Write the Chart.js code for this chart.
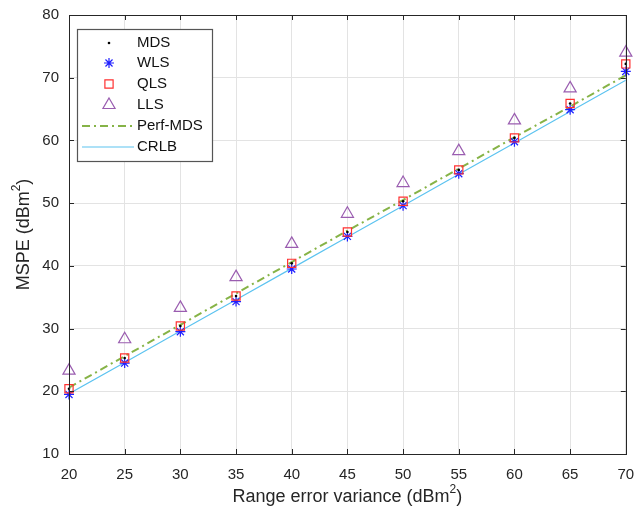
<!DOCTYPE html>
<html>
<head>
<meta charset="utf-8">
<script src="https://cdn.jsdelivr.net/npm/chart.js@4"></script>
<style>
  html, body { margin: 0; padding: 0; background: #fff; }
  #wrap { width: 634px; height: 517px; }
</style>
</head>
<body>
<div id="wrap"><canvas id="mspeChart" width="634" height="517"></canvas></div>
<script>
// range error variance (dBm^2)
const variance = [20, 25, 30, 35, 40, 45, 50, 55, 60, 65, 70];

// MSPE values
const mds = [20.4, 25.3, 30.4, 35.2, 40.4, 45.4, 50.3, 55.3, 60.4, 65.9, 72.2];
const wls = [19.5, 24.5, 29.5, 34.3, 39.5, 44.7, 49.6, 54.7, 59.8, 64.9, 71.0];
const qls = [20.4, 25.3, 30.4, 35.2, 40.4, 45.4, 50.3, 55.3, 60.4, 65.9, 72.2];
const lls = [23.3, 28.3, 33.3, 38.2, 43.5, 48.3, 53.2, 58.3, 63.2, 68.3, 74.0];
const perfMds = [20.6, 25.6, 30.6, 35.6, 40.6, 45.6, 50.5, 55.5, 60.5, 65.4, 70.4];
const crlb = [19.6, 24.6, 29.6, 34.6, 39.6, 44.6, 49.6, 54.6, 59.6, 64.6, 69.6];

const xTicks = [20, 25, 30, 35, 40, 45, 50, 55, 60, 65, 70];
const yTicks = [10, 20, 30, 40, 50, 60, 70, 80];

const FONT = "'Liberation Sans', Arial, sans-serif";
const TEXT = "#262626";

function pts(ys) {
  return variance.map((x, i) => ({ x: x, y: ys[i] }));
}

const datasets = [
  {
    label: "MDS", data: pts(mds), showLine: false, clip: false,
    pointStyle: "circle", pointRadius: 1.3, borderWidth: 0,
    backgroundColor: "#000", borderColor: "#000", order: 0,
  },
  {
    label: "WLS", data: pts(wls), showLine: false, clip: false,
    pointStyle: "star", pointRadius: 5, borderWidth: 1.2,
    borderColor: "#1f1fff", backgroundColor: "#1f1fff", order: 3,
  },
  {
    label: "QLS", data: pts(qls), showLine: false, clip: false,
    pointStyle: "rect", pointRadius: 5.8, borderWidth: 1.2,
    borderColor: "#ff3030", backgroundColor: "rgba(0,0,0,0)", order: 2,
  },
  {
    label: "LLS", data: pts(lls), showLine: false, clip: false,
    pointStyle: "triangle", pointRadius: 7, borderWidth: 1.2,
    borderColor: "#9a5db0", backgroundColor: "rgba(0,0,0,0)", order: 4,
  },
  {
    label: "Perf-MDS", data: pts(perfMds), showLine: true,
    pointRadius: 0, borderWidth: 2, borderDash: [8, 4, 2, 4],
    borderColor: "#86b347", backgroundColor: "#86b347", order: 5,
  },
  {
    label: "CRLB", data: pts(crlb), showLine: true,
    pointRadius: 0, borderWidth: 1.2,
    borderColor: "#5cc3f0", backgroundColor: "#5cc3f0", order: 6,
  },
];

// text with a superscript "2" before the closing bracket
function supText(ctx, before, sup, after, cx, cy, size) {
  ctx.font = size + "px " + FONT;
  const w1 = ctx.measureText(before).width;
  const w3 = ctx.measureText(after).width;
  ctx.font = Math.round(size * 0.65) + "px " + FONT;
  const w2 = ctx.measureText(sup).width;
  let x = cx - (w1 + w2 + w3) / 2;
  ctx.textAlign = "left";
  ctx.textBaseline = "middle";
  ctx.font = size + "px " + FONT;
  ctx.fillText(before, x, cy);
  x += w1;
  ctx.font = Math.round(size * 0.65) + "px " + FONT;
  ctx.fillText(sup, x, cy - size * 0.4);
  x += w2;
  ctx.font = size + "px " + FONT;
  ctx.fillText(after, x, cy);
}

// axes box, inner ticks, titles and the legend box in the upper left
const frame = {
  id: "frame",
  afterDraw(chart) {
    const { ctx, chartArea: a, scales } = chart;
    ctx.save();
    ctx.strokeStyle = "#262626";
    ctx.lineWidth = 1;
    ctx.beginPath();
    xTicks.forEach((t) => {
      const px = Math.round(scales.x.getPixelForValue(t)) + 0.5;
      ctx.moveTo(px, a.bottom); ctx.lineTo(px, a.bottom - 5);
      ctx.moveTo(px, a.top); ctx.lineTo(px, a.top + 5);
    });
    yTicks.forEach((t) => {
      const py = Math.round(scales.y.getPixelForValue(t)) + 0.5;
      ctx.moveTo(a.left, py); ctx.lineTo(a.left + 5, py);
      ctx.moveTo(a.right, py); ctx.lineTo(a.right - 5, py);
    });
    ctx.stroke();
    ctx.strokeRect(Math.round(a.left) + 0.5, Math.round(a.top) + 0.5,
      Math.round(a.right - a.left), Math.round(a.bottom - a.top));

    // axis titles
    ctx.fillStyle = TEXT;
    supText(ctx, "Range error variance (dBm", "2", ")", (a.left + a.right) / 2, 497, 18);
    ctx.save();
    ctx.translate(24, (a.top + a.bottom) / 2);
    ctx.rotate(-Math.PI / 2);
    supText(ctx, "MSPE (dBm", "2", ")", 0, 0, 18);
    ctx.restore();

    // legend
    const lx = 77.5, ly = 29.5, lw = 135, lh = 132;
    ctx.fillStyle = "#fff";
    ctx.fillRect(lx, ly, lw, lh);
    ctx.strokeStyle = "#555";
    ctx.lineWidth = 1.2;
    ctx.strokeRect(lx, ly, lw, lh);
    const rows = [43, 63, 84, 105, 126, 147];
    datasets.forEach((ds, i) => {
      const y = rows[i];
      ctx.save();
      ctx.strokeStyle = ds.borderColor;
      ctx.fillStyle = ds.backgroundColor;
      ctx.lineWidth = ds.borderWidth;
      if (ds.showLine) {
        ctx.setLineDash(ds.borderDash || []);
        ctx.beginPath();
        ctx.moveTo(82, y); ctx.lineTo(134, y);
        ctx.stroke();
      } else {
        Chart.helpers.drawPoint(ctx, {
          pointStyle: ds.pointStyle, radius: ds.pointRadius,
          borderWidth: ds.borderWidth, rotation: 0,
        }, 109, y);
      }
      ctx.restore();
      ctx.fillStyle = "#111";
      ctx.font = "15px " + FONT;
      ctx.textAlign = "left";
      ctx.textBaseline = "middle";
      ctx.fillText(ds.label, 137, y);
    });
    ctx.restore();
  },
};

new Chart(document.getElementById("mspeChart").getContext("2d"), {
  type: "scatter",
  data: { datasets },
  options: {
    responsive: false,
    animation: false,
    layout: { padding: { top: 15, right: 8, left: 0, bottom: 0 } },
    plugins: { legend: { display: false }, tooltip: { enabled: false } },
    scales: {
      x: {
        type: "linear", min: 20, max: 70,
        afterBuildTicks: (s) => { s.ticks = xTicks.map((v) => ({ value: v })); },
        afterFit: (s) => { s.height = 63; s.paddingLeft = 0; s.paddingRight = 0; },
        grid: { color: "#e3e3e3", drawTicks: false },
        border: { display: false },
        ticks: { color: TEXT, font: { family: FONT, size: 15 }, padding: 12, maxRotation: 0 },
      },
      y: {
        type: "linear", min: 10, max: 80,
        afterBuildTicks: (s) => { s.ticks = yTicks.map((v) => ({ value: v })); },
        afterFit: (s) => { s.width = 69; s.paddingTop = 0; s.paddingBottom = 0; },
        grid: { color: "#e3e3e3", drawTicks: false },
        border: { display: false },
        ticks: { color: TEXT, font: { family: FONT, size: 15 }, padding: 10 },
      },
    },
  },
  plugins: [frame],
});
</script>
</body>
</html>
